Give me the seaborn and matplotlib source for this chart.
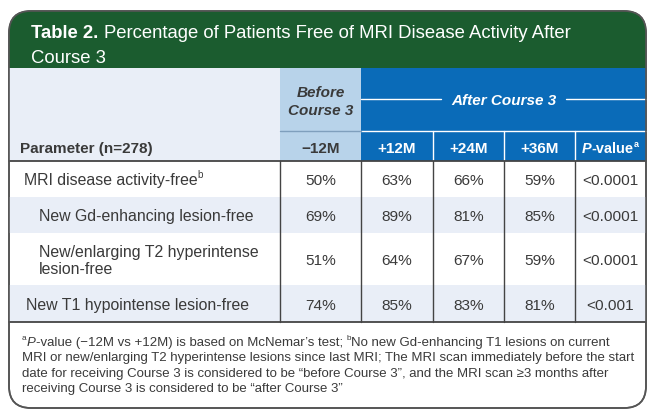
import matplotlib
matplotlib.use("Agg")
import matplotlib.pyplot as plt
import seaborn as sns
from matplotlib.patches import FancyBboxPatch, Rectangle

# ---------------------------------------------------------------
# data
# ---------------------------------------------------------------
title_bold = "Table 2."
title_rest = ["Percentage of Patients Free of MRI Disease Activity After", "Course 3"]

parameters = ["MRI disease activity-free",
              "New Gd-enhancing lesion-free",
              "New/enlarging T2 hyperintense\nlesion-free",
              "New T1 hypointense lesion-free"]
param_sup = ["b", "", "", ""]
periods = ["\u221212M", "+12M", "+24M", "+36M"]
pct_m12 = [50, 69, 51, 74]
pct_p12 = [63, 89, 64, 85]
pct_p24 = [66, 81, 67, 83]
pct_p36 = [59, 85, 59, 81]
p_values = ["<0.0001", "<0.0001", "<0.0001", "<0.001"]

footnote = [
    [("a", "sup"), ("P", "it"), ("-value (\u221212M vs +12M) is based on McNemar\u2019s test; ", "rm"),
     ("b", "sup"), ("No new Gd-enhancing T1 lesions on current", "rm")],
    [("MRI or new/enlarging T2 hyperintense lesions since last MRI; The MRI scan immediately before the start", "rm")],
    [("date for receiving Course 3 is considered to be \u201cbefore Course 3\u201d, and the MRI scan \u22653 months after", "rm")],
    [("receiving Course 3 is considered to be \u201cafter Course 3\u201d", "rm")],
]

# ---------------------------------------------------------------
# layout (pixels)
# ---------------------------------------------------------------
W, H = 666, 419
L, R, T, B = 9, 646, 11, 408
cols = [280, 361, 433, 504, 575, 646]
green_bot = 68
mid_line = 131
head_bot = 161
row_edges = [161, 197, 233, 285, 322]
label_x = [24, 39, 39, 26]

GREEN = "#1b5c2f"
BLUE = "#0a6bb8"
LIGHTBLUE = "#b8d3ea"
SHADE = "#e9eef7"
TXT = "#3a3a3a"
LINE = "#444444"

sns.set_theme(style="white")
plt.rcParams["font.family"] = ["Liberation Sans", "DejaVu Sans"]

fig = plt.figure(figsize=(W / 100, H / 100), dpi=100)
ax = fig.add_axes([0, 0, 1, 1])
ax.set_xlim(0, W)
ax.set_ylim(H, 0)
ax.axis("off")
fig.canvas.draw()
renderer = fig.canvas.get_renderer()


def text_w(txt, size, weight="normal", style="normal"):
    t = ax.text(0, 0, txt, fontsize=size, weight=weight, style=style)
    w = t.get_window_extent(renderer).width
    t.remove()
    return w


def fit_size(txt, target, weight="normal", style="normal", base=12.0):
    # pick the font size that gives the width measured on the reference
    return base * target / text_w(txt, base, weight, style)


def runs(x, y, pieces, size, color=TXT, ha="left", weight="normal"):
    """draw text pieces on one baseline y, left to right"""
    arts = []
    for txt, sty in pieces:
        kw = dict(fontsize=size, color=color, va="baseline", weight=weight, zorder=6)
        if sty == "it":
            kw["style"] = "italic"
        if sty == "sup":
            kw["fontsize"] = size * 0.62
        arts.append((ax.text(0, y, txt, **kw), sty))
    widths = [a.get_window_extent(renderer).width for a, _ in arts]
    tot = sum(widths)
    cx = x - tot / 2 if ha == "center" else x
    for (a, sty), w in zip(arts, widths):
        a.set_x(cx)
        if sty == "sup":
            a.set_y(y - size * 1.389 * 0.42)
        cx += w
    return tot


# outer rounded box
box = FancyBboxPatch((L, T), R - L, B - T, boxstyle="round,pad=0,rounding_size=22",
                     fc="white", ec="#555555", lw=1.2, zorder=1)
ax.add_patch(box)


def rect(x0, y0, x1, y1, c, z=2):
    p = Rectangle((x0, y0), x1 - x0, y1 - y0, fc=c, ec="none", zorder=z)
    ax.add_patch(p)
    p.set_clip_path(box)


rect(L, T, R, green_bot, GREEN)
rect(L, green_bot, cols[0], head_bot, SHADE)
rect(cols[0], green_bot, cols[1], head_bot, LIGHTBLUE)
rect(cols[1], green_bot, R, head_bot, BLUE)
for i in range(len(parameters)):
    if i % 2 == 1:
        rect(L, row_edges[i], R, row_edges[i + 1], SHADE)

# header lines
ax.plot([cols[1], R], [mid_line, mid_line], color="white", lw=1.0, zorder=3)
ax.plot([cols[0], cols[1]], [mid_line, mid_line], color="#7f9fbd", lw=1.0, zorder=3)
for xc in cols[2:5]:
    ax.plot([xc, xc], [mid_line, head_bot], color="white", lw=1.0, zorder=3)
ax.plot([L, R], [head_bot, head_bot], color=LINE, lw=1.3, zorder=4)
ax.plot([L, R], [row_edges[-1], row_edges[-1]], color=LINE, lw=1.3, zorder=4)
for xc in cols[:5]:
    ax.plot([xc, xc], [head_bot, row_edges[-1]], color=LINE, lw=1.0, zorder=4)
ax.add_patch(FancyBboxPatch((L, T), R - L, B - T, boxstyle="round,pad=0,rounding_size=22",
                            fc="none", ec="#555555", lw=1.2, zorder=5))

# title
fs_t = fit_size(title_rest[0], 573 - 104)
w = runs(31, 38, [(title_bold, "rm")], fs_t, color="white", weight="bold")
runs(104, 38, [(title_rest[0], "rm")], fs_t, color="white")
runs(31, 63, [(title_rest[1], "rm")], fs_t, color="white")

# column headers
fs_h = fit_size("Course 3", 65, weight="bold", style="italic")
runs((cols[0] + cols[1]) / 2, 97, [("Before", "it")], fs_h, weight="bold", ha="center")
runs((cols[0] + cols[1]) / 2, 115, [("Course 3", "it")], fs_h, weight="bold", ha="center")
aw = runs((cols[1] + R) / 2, 105, [("After Course 3", "it")], fs_h, color="white",
          weight="bold", ha="center")
cxm = (cols[1] + R) / 2
ax.plot([cols[1], cxm - aw / 2 - 10], [99, 99], color="white", lw=1.0, zorder=3)
ax.plot([cxm + aw / 2 + 10, R], [99, 99], color="white", lw=1.0, zorder=3)

runs(20, 153, [("Parameter (n=278)", "rm")], fs_h, weight="bold")
for j, per in enumerate(periods):
    runs((cols[j] + cols[j + 1]) / 2, 153, [(per, "rm")], fs_h,
         color=TXT if j == 0 else "white", weight="bold", ha="center")
runs((cols[4] + cols[5]) / 2, 153, [("P", "it"), ("-value", "rm"), ("a", "sup")], fs_h * 0.95,
     color="white", weight="bold", ha="center")

# body
fs_b = fit_size("New Gd-enhancing lesion-free", 215)
fs_v = fit_size("<0.0001", 56)
values = [pct_m12, pct_p12, pct_p24, pct_p36]
for i, par in enumerate(parameters):
    yc = (row_edges[i] + row_edges[i + 1]) / 2
    lines = par.split("\n")
    n = len(lines)
    for k, ln in enumerate(lines):
        yb = yc + 6 + (k - (n - 1) / 2) * 17
        pcs = [(ln, "rm")]
        if param_sup[i] and k == n - 1:
            pcs.append((param_sup[i], "sup"))
        runs(label_x[i], yb, pcs, fs_b)
    for j, vals in enumerate(values):
        runs((cols[j] + cols[j + 1]) / 2, yc + 6, [(f"{vals[i]}%", "rm")], fs_v, ha="center")
    runs((cols[4] + cols[5]) / 2, yc + 6, [(p_values[i], "rm")], fs_v, ha="center")

# footnote
fs_f = fit_size(footnote[1][0][0], 616)
for k, line in enumerate(footnote):
    runs(22, 346 + k * 15.3, line, fs_f)

fig.savefig("out.png", dpi=100)
